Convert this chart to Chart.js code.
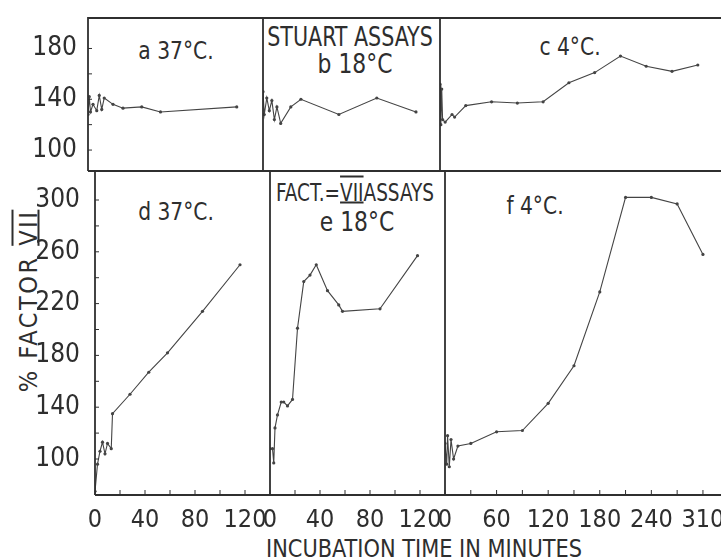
<!DOCTYPE html>
<html>
<head>
<meta charset="utf-8">
<script src="https://cdn.jsdelivr.net/npm/chart.js@4.4.1/dist/chart.umd.min.js"></script>
<style>
  html, body { margin: 0; padding: 0; background: #fff; overflow: hidden; }
  #page { position: relative; width: 721px; height: 559px; overflow: hidden; background: #fff; }
  .panel { position: absolute; }
  .panel canvas { display: block; }
  .lbl { position: absolute; white-space: nowrap; color: #2e2e2e; line-height: 1;
         font-family: "Liberation Sans Narrow", "DejaVu Sans Condensed", sans-serif; font-size: 25px;
         transform: translate(-50%, -50%) scaleX(0.9); }
  .rn { text-decoration: underline overline; text-decoration-thickness: 2px; }
  #ytitle { transform: translate(-50%, -50%) rotate(-90deg); letter-spacing: 2.5px; }
</style>
</head>
<body>
<div id="page">
  <div class="lbl" style="left:176px; top:50px;">a 37°C.</div>
  <div class="lbl" style="left:350px; top:36px; font-size:27px; transform: translate(-50%, -50%) scaleX(0.85);">STUART ASSAYS</div>
  <div class="lbl" style="left:355px; top:63px; font-size:27px;">b 18°C</div>
  <div class="lbl" style="left:570px; top:46px;">c 4°C.</div>
  <div class="lbl" style="left:176px; top:211px;">d 37°C.</div>
  <div class="lbl" style="left:355px; top:192px; transform: translate(-50%, -50%) scaleX(0.82);">FACT.=<span class="rn">VII</span>ASSAYS</div>
  <div class="lbl" style="left:357px; top:221px; font-size:27px;">e 18°C</div>
  <div class="lbl" style="left:535px; top:205px;">f 4°C.</div>
  <div class="lbl" id="ytitle" style="left:28px; top:301px;">% FACTOR <span class="rn">VII</span></div>
  <div class="lbl" style="left:424px; top:548px; transform: translate(-50%, -50%) scaleX(0.93);">INCUBATION TIME IN MINUTES</div>
</div>
<script>
const FONT = '"Liberation Sans Narrow", "DejaVu Sans Condensed", sans-serif';
const INK = '#444';

// Stuart assays (top row)
const aMinutes = [0, 1, 2, 4, 7, 9, 11, 13, 20, 28, 43, 58, 119];
const aPercent = [128, 142, 130, 136, 131, 143, 132, 141, 136, 133, 134, 130, 134];

const bMinutes = [0, 1, 3, 5, 7, 9, 11, 14, 22, 30, 60, 90, 121];
const bPercent = [146, 128, 141, 131, 139, 124, 134, 121, 134, 140, 128, 141, 130];

const cMinutes = [0, 1, 2, 3, 6, 14, 17, 30, 60, 90, 120, 150, 180, 210, 240, 270, 300];
const cPercent = [152, 120, 148, 124, 122, 128, 126, 135, 138, 137, 138, 153, 161, 174, 166, 162, 167];

// Factor VII assays (bottom row)
const dMinutes = [0, 2, 4, 6, 8, 10, 13, 14, 28, 43, 58, 86, 116];
const dPercent = [75, 96, 106, 113, 104, 112, 108, 135, 150, 167, 182, 214, 250];

const eMinutes = [0, 2, 3, 4, 6, 9, 11, 14, 18, 22, 27, 32, 37, 46, 55, 58, 88, 118];
const ePercent = [108, 108, 97, 124, 134, 144, 144, 141, 146, 201, 237, 242, 250, 230, 219, 214, 216, 257];

const fMinutes = [0, 2, 3, 5, 7, 10, 15, 30, 60, 90, 120, 150, 180, 210, 240, 270, 300];
const fPercent = [112, 96, 118, 94, 115, 100, 110, 112, 121, 122, 143, 172, 229, 302, 302, 297, 258];

// ticks
const shortTicks = [0, 20, 40, 60, 80, 100, 120];
const shortTickLabels = ['0', '', '40', '', '80', '', '120'];
const longTicks = [0, 30, 60, 90, 120, 150, 180, 210, 240, 270, 300];
const longTickLabels = ['0', '', '60', '', '120', '', '180', '', '240', '', '310'];
const topTicks = [100, 120, 140, 160, 180];
const topTickLabels = ['100', '', '140', '', '180'];
const bottomTicks = [100, 120, 140, 160, 180, 200, 220, 240, 260, 280, 300];
const bottomTickLabels = ['100', '', '140', '', '180', '', '220', '', '260', '', '300'];

// frame lines + inward tick marks
const framePlugin = {
    id: 'frame',
    afterDraw(chart, args, opts) {
        const { ctx, chartArea: a } = chart;
        ctx.save();
        ctx.strokeStyle = '#2f2f2f';
        ctx.lineWidth = 1.8;
        ctx.beginPath();
        ctx.moveTo(a.left, a.bottom);
        ctx.lineTo(a.left, a.top);
        ctx.lineTo(a.right, a.top);
        ctx.moveTo(a.left, a.bottom);
        ctx.lineTo(a.right, a.bottom);
        ctx.stroke();

        ctx.lineWidth = 1;
        ctx.beginPath();
        if (opts.xTicks) {
            opts.xTicks.forEach(v => {
                const px = chart.scales.x.getPixelForValue(v);
                ctx.moveTo(px, a.bottom);
                ctx.lineTo(px, a.bottom - 5);
            });
        }
        if (opts.yTicks) {
            opts.yTicks.forEach(v => {
                const py = chart.scales.y.getPixelForValue(v);
                ctx.moveTo(a.left, py);
                ctx.lineTo(a.left + 4, py);
            });
        }
        ctx.stroke();
        ctx.restore();
    }
};

const page = document.getElementById('page');

function makePanel(box, xs, ys, o) {
    const showX = !!o.showX, showY = !!o.showY;
    const padL = showY ? box.l : 12;
    const padR = o.padR || 6;
    const padT = 6;
    const padB = showX ? 559 - box.b : 6;

    const div = document.createElement('div');
    div.className = 'panel';
    div.style.left = (box.l - padL) + 'px';
    div.style.top = (box.t - padT) + 'px';
    div.style.width = (box.r - box.l + padL + padR) + 'px';
    div.style.height = (box.b - box.t + padT + padB) + 'px';
    const canvas = document.createElement('canvas');
    div.appendChild(canvas);
    page.appendChild(div);

    new Chart(canvas, {
        type: 'line',
        data: {
            datasets: [{
                data: xs.map((x, i) => ({ x: x, y: ys[i] })),
                borderColor: INK,
                borderWidth: 1.1,
                pointRadius: 1.6,
                pointBackgroundColor: INK,
                pointBorderWidth: 0,
                tension: 0
            }]
        },
        options: {
            responsive: true,
            maintainAspectRatio: false,
            animation: false,
            layout: { padding: { left: showY ? 0 : padL, right: padR, top: padT, bottom: showX ? 0 : padB } },
            plugins: {
                legend: { display: false },
                tooltip: { enabled: false },
                frame: { xTicks: showX ? o.xTicks : null, yTicks: showY ? o.yTicks : null }
            },
            scales: {
                x: {
                    type: 'linear', min: o.xMin, max: o.xMax, display: showX,
                    afterBuildTicks: s => { s.ticks = o.xTicks.map(v => ({ value: v })); },
                    afterFit: s => { s.height = showX ? padB : 0; s.paddingLeft = 0; s.paddingRight = 0; },
                    grid: { display: false, drawTicks: false },
                    border: { display: false },
                    ticks: {
                        padding: 10, color: '#2e2e2e', autoSkip: false, maxRotation: 0,
                        font: { family: FONT, size: 25 },
                        callback: (v, i) => o.xLabels[i]
                    }
                },
                y: {
                    type: 'linear', min: o.yMin, max: o.yMax, display: showY,
                    afterBuildTicks: s => { s.ticks = o.yTicks.map(v => ({ value: v })); },
                    afterFit: s => { s.width = showY ? padL : 0; s.paddingTop = 0; s.paddingBottom = 0; },
                    grid: { display: false, drawTicks: false },
                    border: { display: false },
                    ticks: {
                        padding: o.yPad || 12, color: '#2e2e2e', autoSkip: false,
                        font: { family: FONT, size: 26 },
                        callback: (v, i) => o.yLabels[i]
                    }
                }
            }
        },
        plugins: [framePlugin]
    });
}

const topY = { yMin: 83.5, yMax: 204, yTicks: topTicks, yLabels: topTickLabels };
const botY = { yMin: 72.2, yMax: 322.4, yTicks: bottomTicks, yLabels: bottomTickLabels };
const shortX = { xMin: 0, xMax: 140, xTicks: shortTicks, xLabels: shortTickLabels };

makePanel({ l: 88, t: 18, r: 263, b: 171 }, aMinutes, aPercent, { ...topY, ...shortX, showY: true, yPad: 11 });
makePanel({ l: 263, t: 18, r: 440, b: 171 }, bMinutes, bPercent, { ...topY, ...shortX });
makePanel({ l: 440, t: 18, r: 721, b: 171 }, cMinutes, cPercent,
    { ...topY, xMin: 0, xMax: 327, xTicks: longTicks, xLabels: longTickLabels, padR: 19 });

makePanel({ l: 95, t: 171, r: 270, b: 495 }, dMinutes, dPercent, { ...botY, ...shortX, showY: true, showX: true, yPad: 15 });
makePanel({ l: 270, t: 171, r: 445, b: 495 }, eMinutes, ePercent, { ...botY, ...shortX, showX: true });
makePanel({ l: 445, t: 171, r: 721, b: 495 }, fMinutes, fPercent,
    { ...botY, xMin: 0, xMax: 321, xTicks: longTicks, xLabels: longTickLabels, showX: true, padR: 19 });
</script>
</body>
</html>
